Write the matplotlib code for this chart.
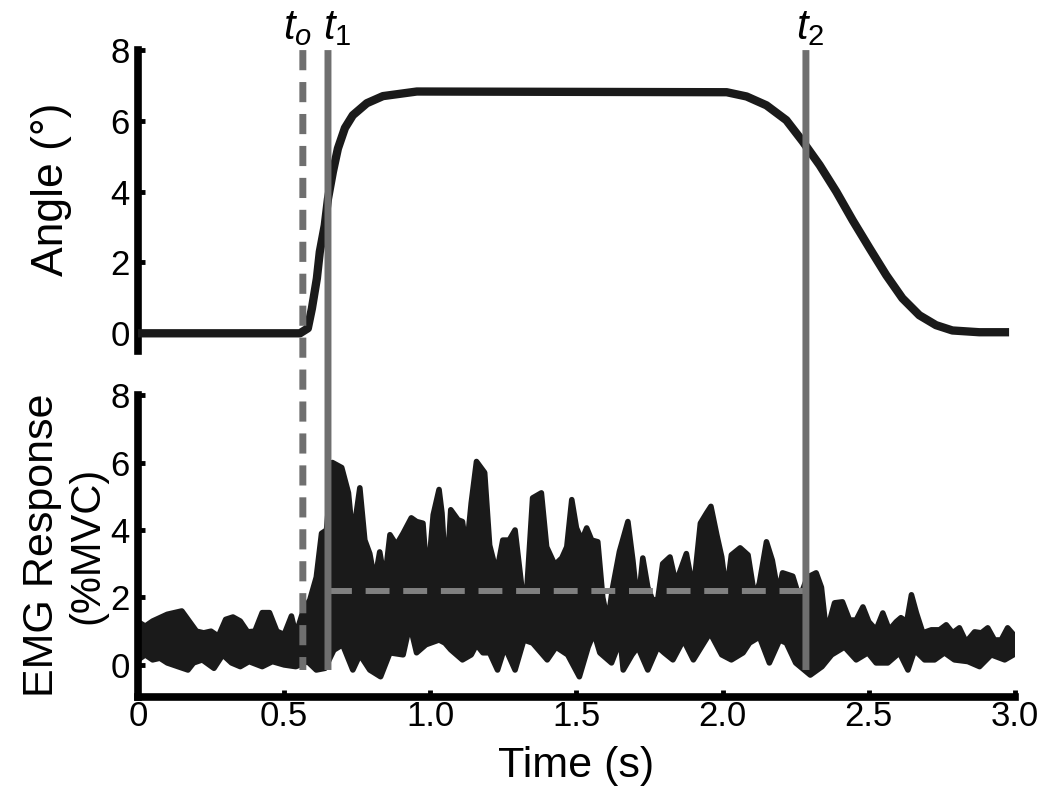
import matplotlib
matplotlib.use("Agg")
import matplotlib.pyplot as plt
import numpy as np
from matplotlib.patches import ConnectionPatch

plt.rcParams["font.family"] = ["Liberation Sans", "DejaVu Sans"]
plt.rcParams["mathtext.fontset"] = "custom"
plt.rcParams["mathtext.it"] = "Liberation Sans:italic"
plt.rcParams["mathtext.rm"] = "Liberation Sans"

INK = "#1a1a1a"
VGRAY = "#6f6f6f"
HGRAY = "#808080"

# event times (s)
t_o, t_1, t_2 = 0.564, 0.65, 2.285
emg_mean = 2.2

# angle trace
ang_t = [0.0, 0.554, 0.581, 0.595, 0.612, 0.622, 0.639, 0.650, 0.667, 0.684,
         0.708, 0.735, 0.783, 0.838, 0.954, 2.014, 2.082, 2.150, 2.218, 2.274,
         2.332, 2.389, 2.445, 2.503, 2.560, 2.615, 2.673, 2.730, 2.786, 2.878,
         2.980]
ang_v = [0.0, 0.0, 0.14, 0.7, 1.55, 2.3, 3.05, 3.8, 4.57, 5.22,
         5.8, 6.16, 6.5, 6.7, 6.83, 6.81, 6.69, 6.44, 6.02, 5.42,
         4.75, 4.0, 3.19, 2.4, 1.64, 0.99, 0.51, 0.23, 0.08, 0.03,
         0.03]

# EMG band: upper envelope (peaks)
emg_up_t = [0.000, 0.025, 0.050, 0.075, 0.100, 0.125, 0.150, 0.175, 0.200, 0.225,
            0.250, 0.275, 0.300, 0.325, 0.350, 0.375, 0.400, 0.425, 0.450, 0.475,
            0.500, 0.525, 0.540, 0.565, 0.588, 0.610, 0.628, 0.645, 0.665, 0.697,
            0.720, 0.735, 0.759, 0.776, 0.793, 0.810, 0.827, 0.844, 0.862, 0.884,
            0.907, 0.935, 0.953, 0.975, 0.990, 1.010, 1.030, 1.040, 1.055, 1.070,
            1.095, 1.110, 1.124, 1.140, 1.158, 1.186, 1.203, 1.227, 1.248, 1.270,
            1.290, 1.313, 1.330, 1.350, 1.380, 1.398, 1.426, 1.450, 1.467, 1.484,
            1.500, 1.518, 1.535, 1.552, 1.573, 1.590, 1.607, 1.624, 1.647, 1.676,
            1.693, 1.710, 1.727, 1.744, 1.760, 1.778, 1.795, 1.820, 1.840, 1.876,
            1.900, 1.924, 1.945, 1.960, 1.980, 1.997, 2.013, 2.030, 2.060, 2.087,
            2.110, 2.126, 2.150, 2.170, 2.190, 2.205, 2.240, 2.263, 2.290, 2.320,
            2.338, 2.355, 2.383, 2.410, 2.434, 2.457, 2.480, 2.500, 2.525, 2.548,
            2.570, 2.594, 2.610, 2.630, 2.646, 2.663, 2.685, 2.714, 2.742, 2.765,
            2.787, 2.810, 2.833, 2.862, 2.885, 2.907, 2.930, 2.953, 2.975, 2.995]
emg_up_v = [1.28, 1.15, 1.30, 1.40, 1.50, 1.55, 1.60, 1.30, 1.00, 0.95,
            1.00, 0.85, 1.35, 1.42, 1.30, 0.98, 1.00, 1.55, 1.55, 1.00,
            0.90, 1.45, 0.90, 1.60, 1.93, 2.60, 3.90, 4.00, 6.00, 5.85,
            5.10, 3.77, 5.25, 3.70, 3.30, 2.50, 3.35, 2.50, 3.86, 3.56,
            3.90, 4.36, 4.25, 4.20, 2.43, 4.45, 5.20, 4.50, 2.40, 4.60,
            4.30, 4.25, 3.40, 4.80, 6.03, 5.70, 3.55, 2.73, 3.70, 3.70,
            4.00, 2.30, 2.20, 4.95, 5.10, 3.50, 2.97, 3.17, 3.50, 4.90,
            4.06, 3.70, 4.06, 3.70, 3.65, 2.00, 1.28, 2.30, 3.36, 4.25,
            3.10, 1.72, 3.17, 2.30, 1.93, 1.93, 3.00, 3.20, 2.43, 3.30,
            2.20, 4.20, 4.50, 4.70, 3.86, 3.20, 2.13, 3.26, 3.47, 3.26,
            2.00, 2.43, 3.65, 3.10, 2.13, 2.73, 2.63, 1.98, 2.60, 2.73,
            2.30, 0.95, 1.84, 1.87, 1.33, 1.33, 1.72, 1.28, 1.04, 1.54,
            1.04, 1.28, 1.40, 1.28, 2.08, 1.54, 0.95, 1.04, 1.04, 1.19,
            0.95, 1.10, 0.68, 0.98, 0.95, 1.10, 0.74, 0.74, 1.10, 0.90]

# EMG band: lower envelope (troughs)
emg_lo_t = [0.000, 0.025, 0.050, 0.075, 0.100, 0.137, 0.171, 0.190, 0.220, 0.260,
            0.290, 0.320, 0.350, 0.380, 0.425, 0.460, 0.500, 0.540, 0.580, 0.610,
            0.640, 0.670, 0.700, 0.735, 0.759, 0.793, 0.830, 0.862, 0.907, 0.930,
            0.953, 0.985, 1.030, 1.050, 1.070, 1.110, 1.140, 1.158, 1.180, 1.203,
            1.230, 1.255, 1.290, 1.320, 1.350, 1.400, 1.430, 1.470, 1.510, 1.540,
            1.560, 1.580, 1.620, 1.650, 1.660, 1.690, 1.710, 1.744, 1.778, 1.800,
            1.830, 1.866, 1.900, 1.957, 1.997, 2.030, 2.070, 2.092, 2.126, 2.160,
            2.195, 2.218, 2.250, 2.300, 2.340, 2.373, 2.417, 2.457, 2.497, 2.525,
            2.565, 2.605, 2.634, 2.657, 2.691, 2.725, 2.759, 2.793, 2.839, 2.879,
            2.919, 2.965, 2.995]
emg_lo_v = [0.15, 0.30, 0.15, 0.20, 0.06, -0.05, -0.15, 0.06, 0.15, -0.10,
            0.30, 0.06, -0.05, 0.10, -0.05, 0.10, 0.00, -0.05, 0.10, -0.15,
            -0.10, 0.44, 0.60, -0.15, 0.30, -0.15, -0.35, 0.36, 0.30, 1.20,
            0.36, 0.60, 0.74, 0.65, 0.45, 0.15, 0.30, 0.60, 0.36, 0.36,
            -0.15, 0.53, -0.15, 0.74, 0.65, 0.15, 0.53, 0.30, -0.35, 0.53,
            0.95, 0.36, 0.06, 0.74, -0.15, 0.30, 0.53, -0.15, 0.53, 0.36,
            0.15, 0.74, 0.15, 0.95, 0.30, 0.15, 0.36, 0.65, 0.83, 0.06,
            0.74, 0.65, 0.06, -0.30, -0.05, 0.30, 0.53, 0.15, 0.36, 0.06,
            0.06, 0.36, -0.15, 0.44, 0.15, 0.15, 0.36, 0.15, 0.10, -0.05,
            0.30, 0.15, 0.30]

x_ticks = [0, 0.5, 1.0, 1.5, 2.0, 2.5, 3.0]
x_labels = ["0", "0.5", "1.0", "1.5", "2.0", "2.5", "3.0"]
y_ticks = [0, 2, 4, 6, 8]

fig = plt.figure(figsize=(10.5, 8.08), dpi=100)
ax1 = fig.add_axes([0.1314, 0.5656, 0.8352, 0.3724])
ax2 = fig.add_axes([0.1314, 0.1374, 0.8352, 0.3737])

for ax in (ax1, ax2):
    ax.set_xlim(0, 3.0)
    for sp in ("top", "right"):
        ax.spines[sp].set_visible(False)
    for sp in ("left", "bottom"):
        ax.spines[sp].set_linewidth(5.5)
        ax.spines[sp].set_color("black")
    ax.tick_params(direction="in", length=5, width=3.5, labelsize=25,
                   pad=6, color="black")
    ax.set_yticks(y_ticks)
    ax.set_facecolor("none")

ax1.spines["bottom"].set_visible(False)
ax1.set_xticks([])
ax1.set_ylim(-0.5, 8)
ax2.set_ylim(-0.95, 8)
ax2.set_xticks(x_ticks, x_labels)
ax2.tick_params(axis="x", pad=2)

ax1.plot(ang_t, ang_v, color=INK, lw=6, solid_capstyle="butt",
         solid_joinstyle="round", zorder=3)

poly_t = np.concatenate([emg_up_t, emg_lo_t[::-1]])
poly_v = np.concatenate([emg_up_v, emg_lo_v[::-1]])
ax2.fill(poly_t, poly_v, facecolor=INK, edgecolor=INK, lw=4,
         joinstyle="round", zorder=2)

ax2.plot([t_1, t_2], [emg_mean, emg_mean], color=HGRAY, lw=4.3,
         linestyle=(0, (4.0, 2.3)), dash_capstyle="butt", zorder=4)

for t, ls in ((t_o, (0, (2.9, 1.7))), (t_1, "-"), (t_2, "-")):
    con = ConnectionPatch(xyA=(t, 8), coordsA="data", axesA=ax1,
                          xyB=(t, -0.15), coordsB="data", axesB=ax2,
                          color=VGRAY, lw=5, linestyle=ls, capstyle="butt")
    fig.add_artist(con)

ax1.text(0.545, 8.62, r"$t_o$", fontsize=30, ha="center", va="center")
ax1.text(0.68, 8.62, r"$t_1$", fontsize=30, ha="center", va="center")
ax1.text(2.30, 8.62, r"$t_2$", fontsize=30, ha="center", va="center")

fig.text(0.049, 0.766, "Angle (°)", rotation=90, fontsize=32,
         ha="center", va="center")
fig.text(0.040, 0.325, "EMG Response", rotation=90, fontsize=31,
         ha="center", va="center")
fig.text(0.083, 0.325, "(%MVC)", rotation=90, fontsize=30,
         ha="center", va="center")
fig.text(0.549, 0.052, "Time (s)", fontsize=31, ha="center", va="center")

fig.savefig("out.png", dpi=100, facecolor="white")
